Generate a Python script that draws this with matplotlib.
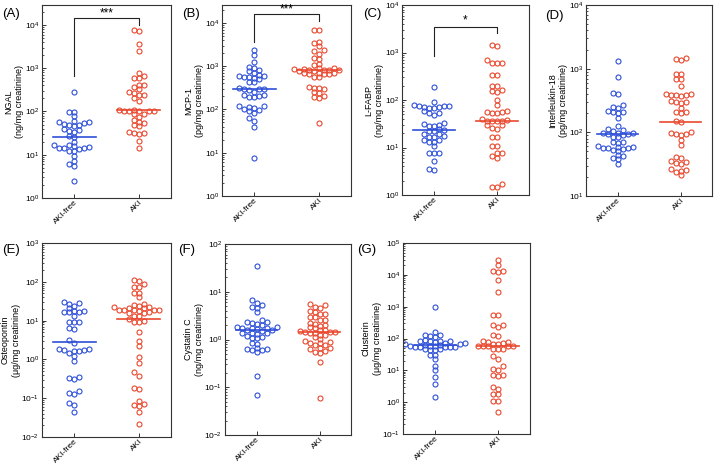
import numpy as np
import matplotlib
matplotlib.use('Agg')
import matplotlib.pyplot as plt
from matplotlib.ticker import LogLocator, NullFormatter

plt.rcParams['font.family'] = ['Liberation Sans', 'DejaVu Sans']
plt.rcParams['mathtext.fontset'] = 'custom'
plt.rcParams['mathtext.rm'] = 'Liberation Sans'
plt.rcParams['mathtext.it'] = 'Liberation Sans:italic'

groups = ['AKI-free', 'AKI']
panel_ids = ['(A)', '(B)', '(C)', '(D)', '(E)', '(F)', '(G)']
ylabels = ['NGAL\n(ng/mg creatinine)', 'MCP-1\n(pg/mg creatinine)', 'L-FABP\n(ng/mg creatinine)',
           'Interleukin-18\n(pg/mg creatinine)', 'Osteopontin\n(\u03bcg/mg creatinine)',
           'Cystatin C\n(ng/mg creatinine)', 'Clusterin\n(\u03bcg/mg creatinine)']

ngal_free = [275, 98, 95, 79, 61, 56, 51, 54, 48, 47, 50, 57, 38, 39, 36, 33, 27, 26, 20, 17, 16, 16.5,
             14.6, 13.9, 14, 14.8, 14.4, 12.3, 12.1, 9.4, 7.2, 6.0, 5.5, 2.5]
ngal_aki = [7400, 7600, 3600, 2450, 775, 670, 590, 585, 410, 405, 360, 330, 288, 262, 240, 236, 208, 174,
            108, 106, 104, 103, 101, 100, 102, 87, 86, 76, 64, 58, 54, 48, 45, 34, 32, 31, 30, 21, 14]
mcp_free = [2350, 1800, 1220, 950, 800, 760, 900, 620, 600, 590, 560, 550, 700, 530, 500, 430, 425, 310,
            300, 280, 290, 305, 260, 220, 200, 215, 190, 198, 120, 110, 100, 90, 112, 118, 98, 85, 62,
            53, 40, 7.5]
mcp_aki = [7000, 6800, 3700, 3400, 2950, 2400, 2300, 1950, 1520, 1500, 1120, 1050, 930, 900, 850, 840,
           830, 820, 810, 800, 790, 780, 700, 690, 680, 670, 660, 650, 570, 560, 330, 320, 310, 290,
           250, 240, 205, 195, 185, 48]
lfabp_free = [185, 89, 80, 75, 70, 72, 76, 73, 68, 67, 58, 53, 52, 49, 33, 32, 30, 29, 28, 24, 23, 22.5,
              22, 19, 19.5, 17, 17.3, 16.7, 14.7, 14.5, 13, 12.8, 10.7, 7.7, 7.8, 7.6, 5.3, 3.5, 3.4]
lfabp_aki = [1450, 1340, 700, 600, 590, 610, 340, 335, 200, 198, 160, 158, 145, 100, 80, 60, 57, 55,
             54, 53, 39, 38, 37, 36.5, 36, 35.5, 30, 29.5, 26, 25, 17, 16.5, 11, 10.8, 7.5, 7.6, 6.6,
             6, 1.7, 1.5, 1.48]
il18_free = [1320, 750, 410, 400, 270, 250, 240, 215, 210, 205, 200, 165, 125, 112, 110, 104, 98, 97,
             96, 95, 94, 92, 85, 84, 71, 70, 69, 60, 58, 57, 56, 55, 57, 59, 52, 51, 44, 43, 39, 38, 32]
il18_aki = [1450, 1400, 1380, 835, 820, 700, 690, 540, 400, 395, 390, 385, 380, 375, 305, 300, 295,
            285, 245, 212, 208, 204, 150, 146, 100, 97, 95, 93, 90, 76, 64, 41, 40, 35, 34, 33, 32,
            27, 26, 25, 24, 21]
opn_free = [30, 28, 27.5, 24, 21, 17.5, 17.3, 17, 16.8, 16.5, 13.5, 9.1, 9.0, 9.2, 6.5, 5.9, 3.2, 2.7,
            1.9, 1.85, 1.7, 1.72, 1.6, 1.62, 1.5, 1.25, 0.9, 0.33, 0.32, 0.36, 0.14, 0.13, 0.15, 0.076,
            0.065, 0.044]
opn_aki = [112, 108, 88, 74, 72, 51, 50, 40, 27, 25, 24.5, 22, 22.3, 21, 21.3, 19, 19.2, 18.8, 18.5,
           18.3, 18, 16, 16.2, 15.5, 13, 12.8, 11, 9.6, 9.4, 9, 5, 3, 2.2, 1.15, 0.8, 0.46, 0.38, 0.18,
           0.175, 0.072, 0.065, 0.063, 0.083, 0.044, 0.022]
cysc_free = [34, 6.8, 5.8, 5.3, 4.8, 4.6, 3.7, 2.5, 2.3, 2.3, 2.2, 2.1, 2.0, 1.8, 1.8, 1.75, 1.7, 1.7,
             1.65, 1.55, 1.55, 1.5, 1.37, 1.35, 1.35, 1.3, 1.2, 1.15, 1.07, 1.05, 0.85, 0.82, 0.66,
             0.64, 0.62, 0.6, 0.6, 0.54, 0.17, 0.07]
cysc_aki = [5.5, 5.2, 4.8, 4.6, 3.9, 3.7, 3.5, 3.4, 3.0, 2.9, 2.6, 2.5, 2.2, 2.15, 2.0, 1.95, 1.8,
            1.75, 1.55, 1.55, 1.5, 1.45, 1.45, 1.42, 1.4, 1.38, 1.26, 1.25, 1.12, 1.02, 0.91, 0.9,
            0.85, 0.84, 0.78, 0.76, 0.66, 0.65, 0.62, 0.57, 0.56, 0.52, 0.33, 0.059]
clu_free = [970, 155, 130, 128, 120, 113, 92, 82, 83, 80, 81, 84, 72, 73, 70, 64, 65, 62, 66, 56, 56.5,
            55, 57, 58, 54, 55.5, 54.5, 47, 46, 43, 42, 31, 30, 22, 13.5, 10, 6.2, 3.8, 1.5]
clu_aki = [29000, 20000, 13000, 12500, 13500, 6700, 2900, 560, 550, 265, 260, 225, 125, 120, 80, 81,
           78, 69, 68, 70, 59, 58, 60, 59.5, 57, 47, 46, 48, 29, 23, 14, 11, 10.5, 7.3, 7.0, 6.8, 3.0,
           2.6, 1.85, 1.8, 1.07, 1.12, 0.48]

free_sets = [ngal_free, mcp_free, lfabp_free, il18_free, opn_free, cysc_free, clu_free]
aki_sets = [ngal_aki, mcp_aki, lfabp_aki, il18_aki, opn_aki, cysc_aki, clu_aki]
medians = [(26, 107), (300, 810), (23, 37), (95, 146), (2.75, 11), (1.55, 1.44), (61, 57)]
ylims = [(1, 2.9e4), (1, 2.6e4), (1, 1e4), (10, 1e4), (1e-2, 1e3), (1e-2, 1e2), (1e-1, 1e5)]
# significance brackets: (left foot, top, right foot, star y, stars)
brackets = {0: (650, 14500, 1e4, 19000, '***'),
            1: (3550, 16000, 11000, 21000, '***'),
            2: (850, 3500, 2550, 4700, '*')}

# axes boxes in pixels: left, top, right, bottom
boxes = [(42, 5, 171, 198), (222, 5, 351, 196), (402, 5, 529, 195), (586, 5, 712, 196),
         (42, 243, 171, 437), (225, 244, 351, 435), (403, 243, 530, 434)]
label_off = [(-40, -9), (-40, -9), (-39, -9), (-41, -11), (-40, -7), (-47, -6), (-46, -7)]
colors = ['#2d4fd8', '#e9482e']

W, H = 715, 468
fig = plt.figure(figsize=(W / 100, H / 100), dpi=100)


def swarm_cols(vals, px_per_dec, gap=4.0):
    y = np.log10(np.asarray(vals, float)) * px_per_dec
    seq = [0]
    for k in range(1, 15):
        seq += [-k, k]
    taken = {}
    cols = np.zeros(len(y))
    for i in np.argsort(y):
        for c in seq:
            if all(abs(y[i] - yy) >= gap for yy in taken.get(c, [])):
                break
        taken.setdefault(c, []).append(y[i])
        cols[i] = c
    return cols


for i in range(7):
    l, t, r, b = boxes[i]
    ax = fig.add_axes([l / W, 1 - b / H, (r - l) / W, (b - t) / H])
    ax.set_yscale('log')
    ax.set_xlim(0.5, 2.5)
    ax.set_ylim(*ylims[i])
    ppd = (b - t) / np.log10(ylims[i][1] / ylims[i][0])
    step = 5 * 2 / (r - l)
    for g, vals in enumerate([free_sets[i], aki_sets[i]]):
        cols = swarm_cols(vals, ppd)
        ax.plot(g + 1 + cols * step, vals, 'o', mfc='none', mec=colors[g], ms=3.6, mew=0.8,
                linestyle='none')
        ax.plot([g + 1 - 0.33, g + 1 + 0.33], [medians[i][g]] * 2, color=colors[g], lw=1.2)
    if i in brackets:
        y0, yt, y1, ys, s = brackets[i]
        ax.plot([1, 1, 2, 2], [y0, yt, yt, y1], color='#222222', lw=0.8)
        ax.text(1.5, ys, s, ha='center', va='center', fontsize=8.5)
    ax.set_xticks([1, 2])
    ax.set_xticklabels(groups, rotation=45, ha='right', rotation_mode='anchor', fontsize=5.3)
    ax.yaxis.set_major_locator(LogLocator(base=10, numticks=15))
    ax.yaxis.set_minor_locator(LogLocator(base=10, subs=np.arange(2, 10), numticks=15))
    ax.yaxis.set_minor_formatter(NullFormatter())
    ax.tick_params(which='both', direction='in', labelsize=6, color='#333333', pad=2)
    ax.tick_params(which='major', length=3, width=0.7)
    ax.tick_params(which='minor', length=1.6, width=0.6)
    ax.tick_params(axis='x', pad=0.8)
    for sp in ax.spines.values():
        sp.set_linewidth(0.8)
        sp.set_color('#333333')
    ax.set_ylabel(ylabels[i], fontsize=6.5, labelpad=0.5, linespacing=1.3)
    ax.annotate(panel_ids[i], xy=(0, 1), xycoords='axes fraction', xytext=label_off[i],
                textcoords='offset pixels', ha='left', va='center', fontsize=9.5)

fig.savefig('out.png', dpi=100)
